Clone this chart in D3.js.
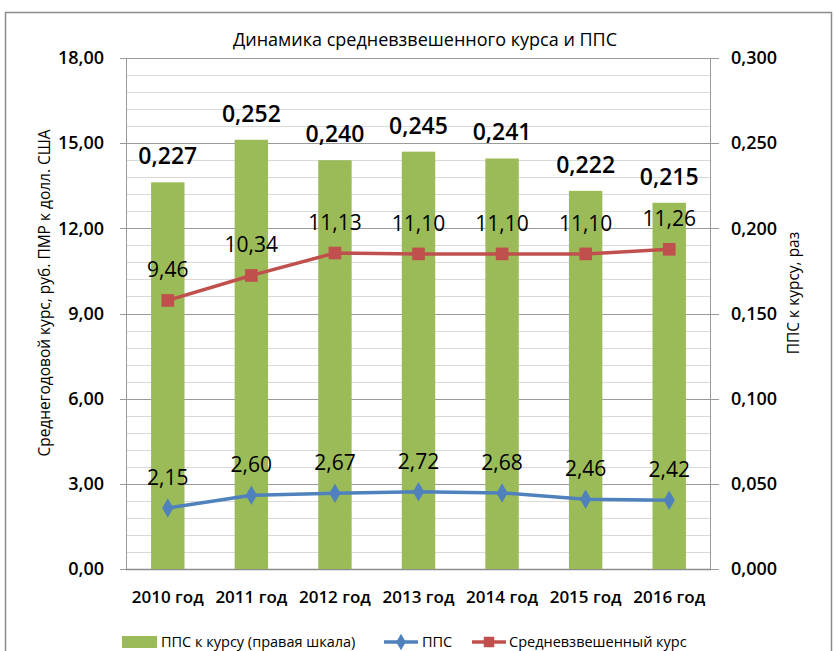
<!DOCTYPE html>
<html>
<head>
<meta charset="utf-8">
<script src="https://cdn.jsdelivr.net/npm/d3@7"></script>
<style>
  body { margin: 0; background: #fff; }
  svg { display: block; font-family: "Open Sans", sans-serif; }
</style>
</head>
<body>
<div id="chartContainer"></div>
<script>
const years = ["2010 год", "2011 год", "2012 год", "2013 год", "2014 год", "2015 год", "2016 год"];
const ratio = [0.227, 0.252, 0.240, 0.245, 0.241, 0.222, 0.215];   // ППС к курсу (правая шкала)
const pps = [2.15, 2.60, 2.67, 2.72, 2.68, 2.46, 2.42];           // ППС
const rate = [9.46, 10.34, 11.13, 11.10, 11.10, 11.10, 11.26];    // Средневзвешенный курс
const leftTicks = [0, 3, 6, 9, 12, 15, 18];
const rightTicks = [0, 0.05, 0.1, 0.15, 0.2, 0.25, 0.3];

const colors = { bar: "#9BBB59", pps: "#4F81BD", rate: "#C0504D" };

const W = 834, H = 651;
const margin = { top: 58, right: 123, bottom: 82, left: 126 };
const width = W - margin.left - margin.right;
const height = H - margin.top - margin.bottom;

const svg = d3.select("#chartContainer").append("svg").attr("width", W).attr("height", H);

// outer chart frame
svg.append("rect").attr("x", 5.5).attr("y", 12.5).attr("width", 826).attr("height", 700)
  .attr("fill", "none").attr("stroke", "#8c8c8c").attr("stroke-width", 1.5);

const fmt = (d, n) => d.toFixed(n).replace(".", ",");

const x = d3.scaleBand().domain(years).range([0, width]).paddingInner(0.6).paddingOuter(0.3);
const yL = d3.scaleLinear().domain([0, 18]).range([height, 0]);
const yR = d3.scaleLinear().domain([0, 0.3]).range([height, 0]);

const g = svg.append("g").attr("transform", `translate(${margin.left},${margin.top})`);

// minor gridlines
g.append("g").selectAll("line").data(d3.range(0, 18.001, 0.6)).join("line")
  .attr("x1", 0).attr("x2", width)
  .attr("y1", d => Math.round(yL(d)) + 0.5).attr("y2", d => Math.round(yL(d)) + 0.5)
  .attr("stroke", "#d9d9d9").attr("stroke-width", 1);

// major gridlines
g.append("g").selectAll("line").data(leftTicks).join("line")
  .attr("x1", -6).attr("x2", width + 8)
  .attr("y1", d => Math.round(yL(d)) + 0.5).attr("y2", d => Math.round(yL(d)) + 0.5)
  .attr("stroke", "#9a9a9a").attr("stroke-width", 1);

// plot border
g.append("path")
  .attr("d", `M0.5,${height + 0.5}V0.5H${width - 0.5}V${height + 0.5}`)
  .attr("fill", "none").attr("stroke", "#9a9a9a");
g.append("line").attr("x1", 0).attr("x2", width).attr("y1", height + 0.5).attr("y2", height + 0.5)
  .attr("stroke", "#8c8c8c").attr("stroke-width", 1.5);

// axes
const axL = g.append("g").call(d3.axisLeft(yL).tickValues(leftTicks).tickSize(0).tickPadding(22).tickFormat(d => fmt(d, 2)));
const axR = g.append("g").attr("transform", `translate(${width},0)`)
  .call(d3.axisRight(yR).tickValues(rightTicks).tickSize(0).tickPadding(20).tickFormat(d => fmt(d, 3)));
const axB = g.append("g").attr("transform", `translate(0,${height})`)
  .call(d3.axisBottom(x).tickSize(0).tickPadding(22));
[axL, axR, axB].forEach(a => {
  a.select(".domain").remove();
  a.selectAll("text").attr("font-family", "'Open Sans', sans-serif").attr("fill", "#000");
});
axL.selectAll("text").attr("font-size", 18).attr("font-weight", 600);
axR.selectAll("text").attr("font-size", 18).attr("font-weight", 600);
axB.selectAll("text").attr("font-size", 17).attr("font-weight", 600);

// bars
g.selectAll(".bar").data(ratio).join("rect").attr("class", "bar")
  .attr("x", (d, i) => x(years[i])).attr("y", d => yR(d))
  .attr("width", x.bandwidth()).attr("height", d => height - yR(d))
  .attr("fill", colors.bar);

g.selectAll(".barlab").data(ratio).join("text").attr("class", "barlab")
  .attr("x", (d, i) => x(years[i]) + x.bandwidth() / 2).attr("y", d => yR(d) - 18)
  .attr("text-anchor", "middle").attr("font-size", 23).attr("font-weight", 600)
  .text(d => fmt(d, 3));

const cx = i => x(years[i]) + x.bandwidth() / 2;

// lines
function drawSeries(data, color, shape, size) {
  const line = d3.line().x((d, i) => cx(i)).y(d => yL(d));
  g.append("path").datum(data).attr("d", line)
    .attr("fill", "none").attr("stroke", color).attr("stroke-width", 3.5);
  g.append("g").selectAll("path").data(data).join("path")
    .attr("transform", (d, i) => `translate(${cx(i)},${yL(d)})`)
    .attr("d", d3.symbol().type(shape).size(size))
    .attr("fill", color);
  g.append("g").selectAll("text").data(data).join("text")
    .attr("x", (d, i) => cx(i)).attr("y", d => yL(d) - 23)
    .attr("text-anchor", "middle").attr("font-size", 21).attr("font-weight", 500)
    .text(d => fmt(d, 2));
}
drawSeries(rate, colors.rate, d3.symbolSquare, 160);
drawSeries(pps, colors.pps, d3.symbolDiamond, 110);

// title
svg.append("text").attr("x", 425).attr("y", 46).attr("text-anchor", "middle")
  .attr("font-size", 18).attr("font-weight", 500).text("Динамика средневзвешенного курса и ППС");

// axis titles
svg.append("text").attr("transform", "translate(50,293) rotate(-90)").attr("text-anchor", "middle")
  .attr("font-size", 15.5).attr("font-weight", 500).text("Среднегодовой курс, руб. ПМР к долл. США");
svg.append("text").attr("transform", "translate(799,293) rotate(-90)").attr("text-anchor", "middle")
  .attr("font-size", 15.5).attr("font-weight", 500).text("ППС к курсу, раз");

// legend
const ly = 642;
const leg = svg.append("g").attr("font-size", 14.5).attr("font-weight", 500);
leg.append("rect").attr("x", 122).attr("y", ly - 6).attr("width", 35).attr("height", 12).attr("fill", colors.bar);
leg.append("text").attr("x", 161).attr("y", ly + 5).text("ППС к курсу (правая шкала)");
leg.append("line").attr("x1", 384).attr("x2", 418).attr("y1", ly).attr("y2", ly).attr("stroke", colors.pps).attr("stroke-width", 3.5);
leg.append("path").attr("transform", `translate(401,${ly})`).attr("d", d3.symbol().type(d3.symbolDiamond).size(80)).attr("fill", colors.pps);
leg.append("text").attr("x", 422).attr("y", ly + 5).text("ППС");
leg.append("line").attr("x1", 472).attr("x2", 506).attr("y1", ly).attr("y2", ly).attr("stroke", colors.rate).attr("stroke-width", 3.5);
leg.append("path").attr("transform", `translate(489,${ly})`).attr("d", d3.symbol().type(d3.symbolSquare).size(110)).attr("fill", colors.rate);
leg.append("text").attr("x", 509).attr("y", ly + 5).text("Средневзвешенный курс");
</script>
</body>
</html>
